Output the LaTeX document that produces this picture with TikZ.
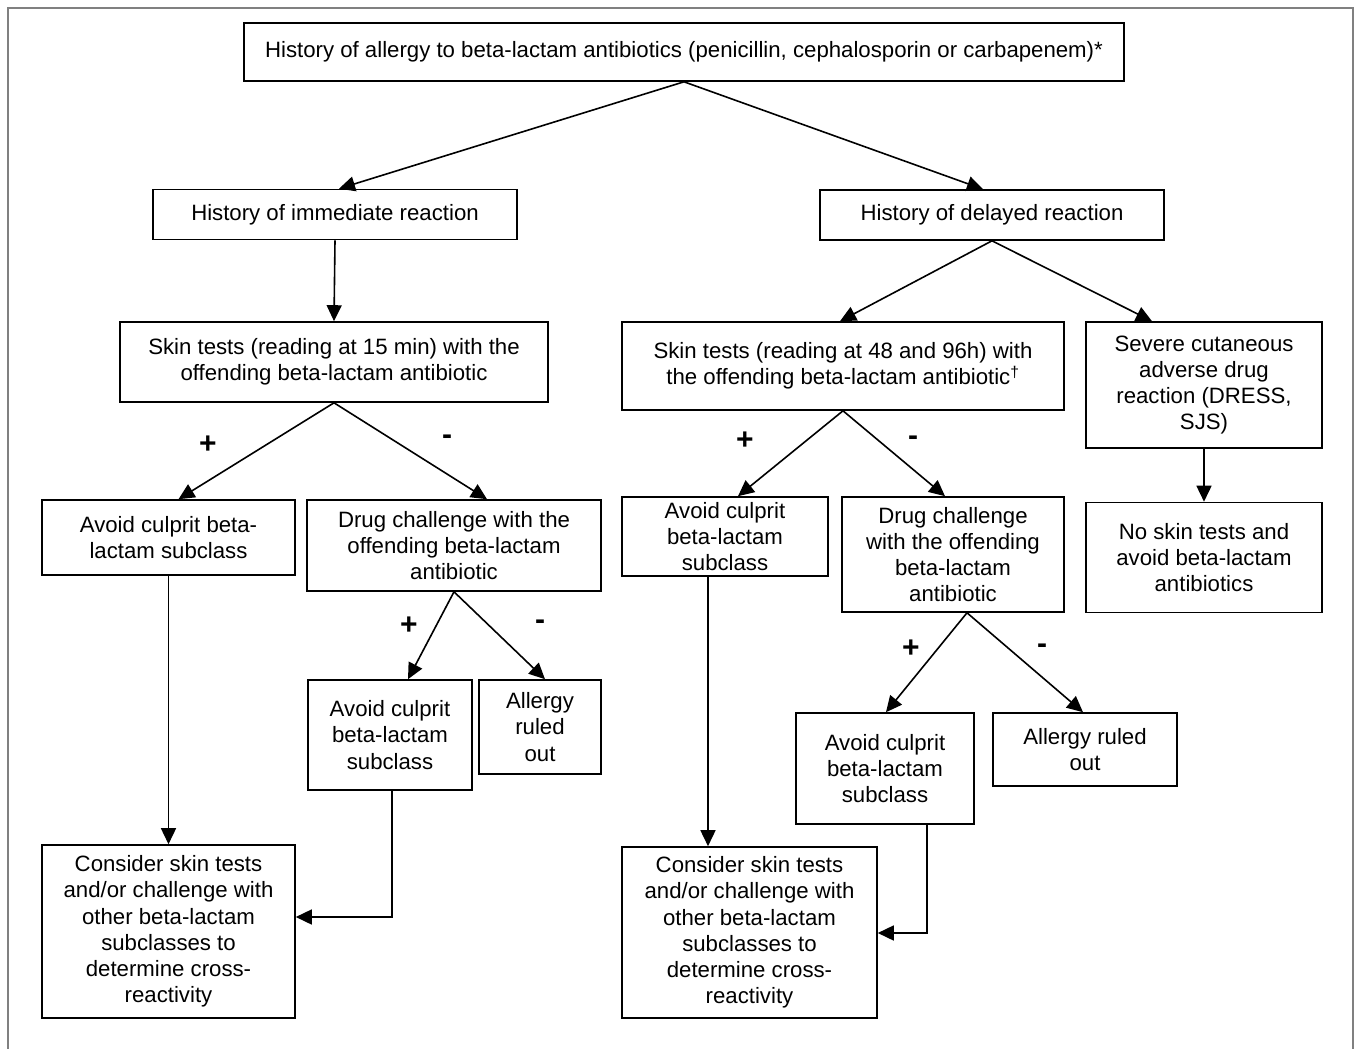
\documentclass[tikz,border=0pt]{standalone}
\usepackage{fontspec}
\setmainfont{Liberation Sans}
\usetikzlibrary{arrows.meta}

\begin{document}
\begin{tikzpicture}[x=1pt,y=-1pt,
    box/.style={draw,line width=1.6pt,align=center,inner sep=0pt,
      font=\fontsize{22.2}{26.2}\selectfont},
    arr/.style={line width=1.6pt,-{Triangle[length=16pt,width=15pt]}},
    sign/.style={font=\fontsize{30}{30}\selectfont\bfseries}]
        \useasboundingbox (0,0) rectangle (1358,1049);
        \draw[gray,line width=2pt] (8,1060) -- (8,8) -- (1353,8) -- (1353,1060);

        % first two levels
        \node (hist) at (684,52) [box,minimum width=880,minimum height=58]
          {History of allergy to beta-lactam antibiotics (penicillin, cephalosporin or carbapenem)*};
        \node (immed) at (335,214.5) [box,minimum width=364,minimum height=50]
          {History of immediate reaction};
        \node (delay) at (992,215) [box,minimum width=344,minimum height=50]
          {History of delayed reaction};

        % skin tests
        \node (skinA) at (334,362) [box,minimum width=428,minimum height=80]
          {Skin tests (reading at 15 min) with the\\offending beta-lactam antibiotic};
        \node (skinB) at (843,366) [box,minimum width=442,minimum height=88]
          {Skin tests (reading at 48 and 96h) with\\the offending beta-lactam antibiotic\textsuperscript{†}};
        \node (severe) at (1204,385) [box,minimum width=236,minimum height=126]
          {Severe cutaneous\\adverse drug\\reaction (DRESS,\\SJS)};

        % third level
        \node (avoidA) at (168.5,537.5) [box,minimum width=253,minimum height=75]
          {Avoid culprit beta-\\lactam subclass};
        \node (drugA) at (454,545.5) [box,minimum width=294,minimum height=91]
          {Drug challenge with the\\offending beta-lactam\\antibiotic};
        \node (avoidB) at (725,536.5) [box,minimum width=206,minimum height=79]
          {Avoid culprit\\beta-lactam\\subclass};
        \node (drugB) at (953,554.5) [box,minimum width=222,minimum height=115]
          {Drug challenge\\with the offending\\beta-lactam\\antibiotic};
        \node (noskin) at (1204,557.5) [box,minimum width=236,minimum height=110]
          {No skin tests and\\avoid beta-lactam\\antibiotics};

        % fourth level
        \node (avoidA2) at (390,735) [box,minimum width=164,minimum height=110]
          {Avoid culprit\\beta-lactam\\subclass};
        \node (ruledA) at (540,727) [box,minimum width=122,minimum height=94]
          {Allergy\\ruled\\out};
        \node (avoidB2) at (885,768.5) [box,minimum width=178,minimum height=111]
          {Avoid culprit\\beta-lactam\\subclass};
        \node (ruledB) at (1085,749.5) [box,minimum width=184,minimum height=73]
          {Allergy ruled\\out};

        % cross-reactivity
        \node (crossA) at (168.5,931.5) [box,minimum width=253,minimum height=173]
          {Consider skin tests\\and/or challenge with\\other beta-lactam\\subclasses to\\determine cross-\\reactivity};
        \node (crossB) at (749.5,932.5) [box,minimum width=255,minimum height=171]
          {Consider skin tests\\and/or challenge with\\other beta-lactam\\subclasses to\\determine cross-\\reactivity};

        % connectors
        \draw[arr] (hist.south) -- ([xshift=4pt]immed.north);
        \draw[arr] (hist.south) -- ([xshift=-9pt]delay.north);
        \draw[arr] (immed.south) -- (skinA.north);
        \draw[arr] (delay.south) -- ([xshift=-3pt]skinB.north);
        \draw[arr] (delay.south) -- ([xshift=-52pt]severe.north);
        \draw[arr] (skinA.south) -- ([xshift=10pt]avoidA.north);
        \draw[arr] (skinA.south) -- ([xshift=33pt]drugA.north);
        \draw[arr] (skinB.south) -- ([xshift=13pt]avoidB.north);
        \draw[arr] (skinB.south) -- ([xshift=-8pt]drugB.north);
        \draw[arr] (severe.south) -- (noskin.north);
        \draw[arr] (drugA.south) -- ([xshift=18pt]avoidA2.north);
        \draw[arr] (drugA.south) -- ([xshift=5pt]ruledA.north);
        \draw[arr] ([xshift=14pt]drugB.south) -- ([xshift=1pt]avoidB2.north);
        \draw[arr] ([xshift=14pt]drugB.south) -- ([xshift=-2pt]ruledB.north);
        \draw[arr] (avoidA.south) -- (crossA.north);
        \draw[arr] ([xshift=2pt]avoidA2.south) |- ([yshift=14.5pt]crossA.east);
        \draw[arr] ([xshift=-17pt]avoidB.south) -- ([xshift=-41.5pt]crossB.north);
        \draw[arr] ([xshift=42pt]avoidB2.south) |- ([yshift=-0.5pt]crossB.east);

        % test results
        \node (pA) at (208,445) [sign] {+};
        \node (mA) at (447,440) [sign] {-};
        \node (pB) at (745,441) [sign] {+};
        \node (mB) at (913,441) [sign] {-};
        \node (pC) at (409,626) [sign] {+};
        \node (mC) at (540,625) [sign] {-};
        \node (pD) at (911,649) [sign] {+};
        \node (mD) at (1042,649) [sign] {-};
      \end{tikzpicture}
\end{document}
